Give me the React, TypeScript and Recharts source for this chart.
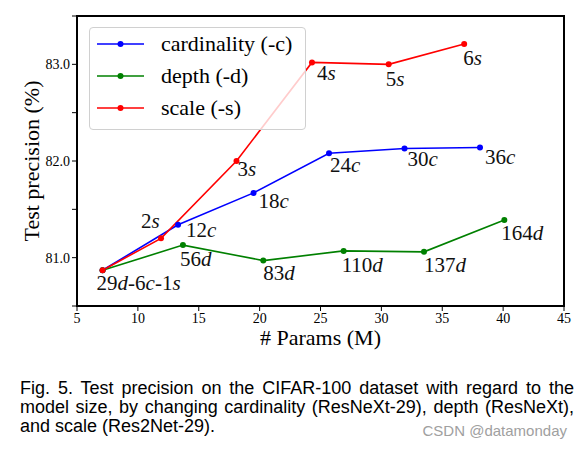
import { LabelList, Legend, Line, LineChart, ReferenceArea, XAxis, YAxis } from "recharts";

// params (M) / test precision (%)
const cardX = [7.1, 13.3, 19.5, 25.7, 31.9, 38.1];
const cardY = [80.87, 81.34, 81.67, 82.08, 82.13, 82.14];
const cardLabels = ["", "12c", "18c", "24c", "30c", "36c"];

const depthX = [7.1, 13.7, 20.3, 26.9, 33.5, 40.1];
const depthY = [80.87, 81.13, 80.97, 81.07, 81.06, 81.39];
const depthLabels = ["29d-6c-1s", "56d", "83d", "110d", "137d", "164d"];

const scaleX = [7.1, 11.9, 18.1, 24.3, 30.6, 36.8];
const scaleY = [80.87, 81.2, 82.0, 83.02, 83.0, 83.21];
const scaleLabels = ["", "2s", "3s", "4s", "5s", "6s"];

const xTicks = [5, 10, 15, 20, 25, 30, 35, 40, 45];
const yTicks = [80.5, 81, 81.5, 82, 82.5, 83, 83.5];

const captionLines = [
  "Fig. 5. Test precision on the CIFAR-100 dataset with regard to the",
  "model size, by changing cardinality (ResNeXt-29), depth (ResNeXt),",
  "and scale (Res2Net-29).",
];

// label offsets from each point (text start, baseline)
const cardOffsets = [[0, 0], [8, 12], [5, 15], [1, 19], [3, 18], [5, 17]];
const depthOffsets = [[-6, 20], [-3, 21], [0, 19], [-2, 21], [0, 20], [-3, 20]];
const scaleOffsets = [[0, 0], [-20, -10], [1, 15], [5, 18], [-3, 22], [-1, 21]];

const SERIF = "'Liberation Serif', 'Times New Roman', serif";
const SANS = "'Liberation Sans', Arial, sans-serif";

const toRows = (xs: number[], ys: number[], labels: string[]) =>
  xs.map((x, i) => ({ x, y: ys[i], label: labels[i] }));

const cardData = toRows(cardX, cardY, cardLabels);
const depthData = toRows(depthX, depthY, depthLabels);
const scaleData = toRows(scaleX, scaleY, scaleLabels);

const pointLabel = (offsets: number[][]) => (props: any) => {
  const { value, index } = props;
  if (!value) return null;
  const px = props.x ?? props.viewBox?.x;
  const py = props.y ?? props.viewBox?.y;
  const [dx, dy] = offsets[index] ?? [0, 0];
  const parts: string[] = String(value).match(/[a-z]+|[^a-z]+/g) ?? [];
  return (
    <text x={px + dx} y={py + dy} fontSize={21} fontFamily={SERIF} fill="#111">
      {parts.map((p, i) => (
        <tspan key={i} fontStyle={/[a-z]/.test(p) ? "italic" : "normal"}>
          {p}
        </tspan>
      ))}
    </text>
  );
};

const XTick = ({ x, y, payload }: any) => (
  <text x={x} y={y} dy="0.71em" textAnchor="middle" fontSize={14} fontFamily={SERIF} fill="#000">
    {payload.value}
  </text>
);

const YTick = ({ x, y, payload }: any) =>
  Number.isInteger(payload.value) ? (
    <text x={x} y={y} dy="0.35em" textAnchor="end" fontSize={14} fontFamily={SERIF} fill="#000">
      {payload.value.toFixed(1)}
    </text>
  ) : null;

const LegendBox = ({ payload }: any) => (
  <div
    style={{
      background: "rgba(255,255,255,0.8)",
      border: "1px solid #d0d0d0",
      borderRadius: 4,
      width: 217,
      height: 103,
      boxSizing: "border-box",
      paddingLeft: 7,
      fontFamily: SERIF,
      fontSize: 22,
      color: "#000",
    }}
  >
    {(payload ?? []).map((entry: any) => (
      <div key={entry.value} style={{ display: "flex", alignItems: "center", height: 32 }}>
        <svg width={47} height={10} style={{ marginRight: 17 }}>
          <line x1={0} y1={5} x2={47} y2={5} stroke={entry.color} strokeWidth={1.6} />
          <circle cx={23.5} cy={5} r={3} fill={entry.color} />
        </svg>
        <span>{entry.value}</span>
      </div>
    ))}
  </div>
);

const App = () => {
  return (
    <div
      style={{
        position: "absolute",
        left: 0,
        top: 0,
        width: 583,
        height: 449,
        background: "#fff",
      }}
    >
      <LineChart
        width={583}
        height={360}
        margin={{ top: 16, right: 19, bottom: 14, left: 0 }}
        style={{ fontFamily: SERIF }}
      >
        <XAxis
          type="number"
          dataKey="x"
          domain={[5, 45]}
          ticks={xTicks}
          allowDataOverflow
          height={40}
          tick={<XTick />}
          tickSize={5}
          axisLine={{ stroke: "#000", strokeWidth: 2 }}
          tickLine={{ stroke: "#000" }}
          label={{
            content: ({ viewBox }: any) => (
              <text
                x={viewBox.x + viewBox.width / 2}
                y={viewBox.y + 39}
                textAnchor="middle"
                fontSize={22}
                fontFamily={SERIF}
                fill="#000"
              >
                # Params (M)
              </text>
            ),
          }}
        />
        <YAxis
          type="number"
          domain={[80.5, 83.5]}
          ticks={yTicks}
          allowDataOverflow
          width={77}
          tick={<YTick />}
          tickSize={5}
          axisLine={{ stroke: "#000", strokeWidth: 2 }}
          tickLine={{ stroke: "#000" }}
          label={{
            content: ({ viewBox }: any) => {
              const cx = viewBox.x + 31;
              const cy = viewBox.y + viewBox.height / 2;
              return (
                <text
                  x={cx}
                  y={cy}
                  dy="0.35em"
                  transform={`rotate(-90 ${cx} ${cy})`}
                  textAnchor="middle"
                  fontSize={22}
                  fontFamily={SERIF}
                  fill="#000"
                >
                  Test precision (%)
                </text>
              );
            },
          }}
        />
        <ReferenceArea
          x1={5}
          x2={45}
          y1={80.5}
          y2={83.5}
          fill="none"
          stroke="#000"
          strokeWidth={2}
        />
        <Legend
          layout="vertical"
          align="center"
          verticalAlign="middle"
          wrapperStyle={{ left: 89, top: 27, width: 217, height: 103 }}
          content={LegendBox}
        />
        <Line
          data={cardData}
          dataKey="y"
          name="cardinality (-c)"
          stroke="#0000ff"
          strokeWidth={1.6}
          dot={{ r: 3, fill: "#0000ff", stroke: "#0000ff", strokeWidth: 0 }}
          activeDot={false}
          isAnimationActive={false}
        >
          <LabelList dataKey="label" content={pointLabel(cardOffsets)} />
        </Line>
        <Line
          data={depthData}
          dataKey="y"
          name="depth (-d)"
          stroke="#008000"
          strokeWidth={1.6}
          dot={{ r: 3, fill: "#008000", stroke: "#008000", strokeWidth: 0 }}
          activeDot={false}
          isAnimationActive={false}
        >
          <LabelList dataKey="label" content={pointLabel(depthOffsets)} />
        </Line>
        <Line
          data={scaleData}
          dataKey="y"
          name="scale (-s)"
          stroke="#ff0000"
          strokeWidth={1.6}
          dot={{ r: 3, fill: "#ff0000", stroke: "#ff0000", strokeWidth: 0 }}
          activeDot={false}
          isAnimationActive={false}
        >
          <LabelList dataKey="label" content={pointLabel(scaleOffsets)} />
        </Line>
      </LineChart>
      <div
        style={{
          position: "absolute",
          left: 20,
          top: 379,
          fontFamily: SANS,
          fontSize: 18,
          lineHeight: "19px",
          color: "#000",
        }}
      >
        {captionLines.map((line, i) =>
          i < captionLines.length - 1 ? (
            <div key={i} style={{ width: 554, textAlign: "justify", textAlignLast: "justify" }}>
              {line}
            </div>
          ) : (
            <span key={i} style={{ display: "inline-block" }}>
              {line}
            </span>
          )
        )}
      </div>
      <div
        style={{
          position: "absolute",
          right: 16,
          top: 423,
          fontFamily: SANS,
          fontSize: 15,
          lineHeight: "15px",
          color: "#a0a0a0",
        }}
      >
        CSDN @datamonday
      </div>
    </div>
  );
};

export default App;
